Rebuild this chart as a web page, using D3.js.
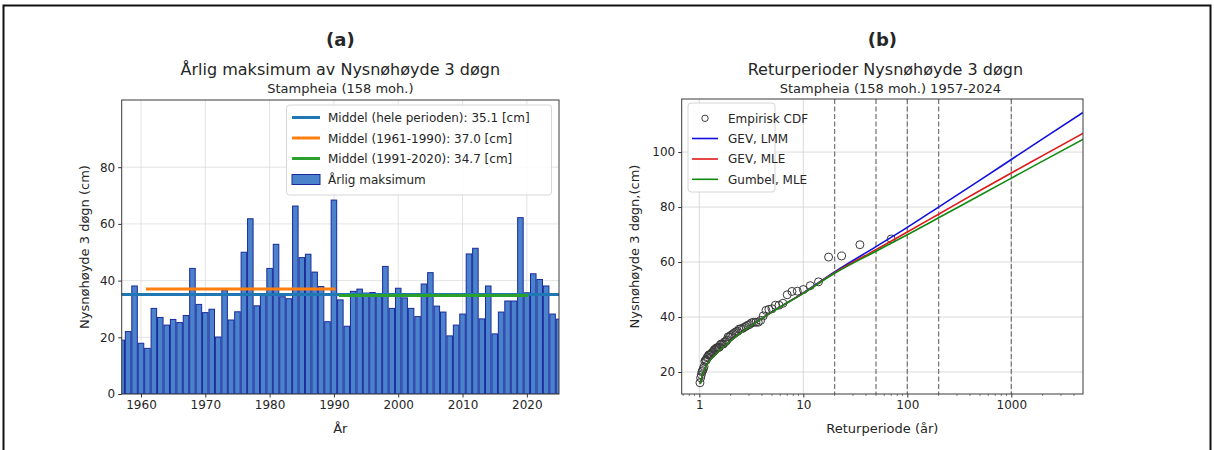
<!DOCTYPE html>
<html>
<head>
<meta charset="utf-8">
<script src="https://cdn.jsdelivr.net/npm/d3@7"></script>
<style>
	body { margin: 0; background: #fff; }
	svg text { font-family: "DejaVu Sans", sans-serif; fill: #262626; }
</style>
</head>
<body>
<script>
(function() {

	// (a) annual maximum of 3-day new snow depth
	var years = [1957, 1958, 1959, 1960, 1961, 1962, 1963, 1964, 1965, 1966, 1967, 1968, 1969,
		1970, 1971, 1972, 1973, 1974, 1975, 1976, 1977, 1978, 1979, 1980, 1981, 1982, 1983, 1984,
		1985, 1986, 1987, 1988, 1989, 1990, 1991, 1992, 1993, 1994, 1995, 1996, 1997, 1998, 1999,
		2000, 2001, 2002, 2003, 2004, 2005, 2006, 2007, 2008, 2009, 2010, 2011, 2012, 2013, 2014,
		2015, 2016, 2017, 2018, 2019, 2020, 2021, 2022, 2023, 2024, 2025];
	var maxSnow = [19.0, 22.0, 38.1, 17.9, 16.1, 30.2, 27.0, 24.3, 26.3, 25.2, 27.7, 44.3, 31.6,
		28.7, 29.9, 20.1, 36.6, 26.1, 29.0, 50.0, 61.8, 31.1, 34.8, 44.3, 52.8, 34.3, 33.6, 66.3,
		48.1, 49.3, 43.0, 37.9, 25.5, 68.4, 33.2, 23.9, 36.2, 37.0, 35.6, 35.8, 34.7, 45.0, 30.2,
		37.3, 33.9, 30.2, 27.3, 38.8, 42.8, 31.0, 28.9, 20.5, 24.3, 28.2, 49.4, 51.4, 26.5, 38.1,
		21.2, 28.9, 32.8, 32.8, 62.2, 35.7, 42.4, 40.4, 38.1, 28.2, 26.4];

	var meanLabels = ['Middel (hele perioden): 35.1 [cm]', 'Middel (1961-1990): 37.0 [cm]', 'Middel (1991-2020): 34.7 [cm]'];
	var meanValues = [35.1, 37.0, 34.7];
	var meanFrom = [1957, 1961, 1991];
	var meanTo = [2025, 1990, 2020];
	var meanColors = ['#1f77b4', '#ff7f0e', '#2ca02c'];

	var yearTicks = [1960, 1970, 1980, 1990, 2000, 2010, 2020];
	var snowTicksA = [0, 20, 40, 60, 80];

	// (b) return periods, fitted curves
	var returnPeriods = [1.02, 1.1, 1.5, 2, 3, 5, 10, 20, 50, 100, 200, 500, 1000, 2000, 5000];
	var gevLmm    = [15.8, 20.2, 27.1, 31.3, 36.3, 41.9, 48.8, 56.4, 65.6, 72.6, 80.0, 89.8, 97.3, 104.8, 114.6];
	var gevMle    = [15.7, 20.1, 27.1, 31.3, 36.3, 41.8, 48.7, 56.1, 64.5, 70.9, 77.4, 86.0, 92.4, 98.7, 107.0];
	var gumbelMle = [15.6, 20.1, 27.1, 31.3, 36.3, 41.8, 48.6, 55.9, 63.9, 69.9, 76.1, 84.3, 90.5, 96.7, 104.8];
	var fitNames = ['GEV, LMM', 'GEV, MLE', 'Gumbel, MLE'];
	var fitColors = ['#1010e0', '#e01818', '#128a12'];

	var markerPeriods = [20, 50, 100, 200, 1000];
	var periodTicks = [1, 10, 100, 1000];
	var snowTicksB = [20, 40, 60, 80, 100];

	var svg = d3.select('body').append('svg')
		.attr('width', 1214).attr('height', 450);

	svg.append('rect')
		.attr('x', 3.5).attr('y', 5.5).attr('width', 1207).attr('height', 460)
		.attr('fill', 'none').attr('stroke', '#111').attr('stroke-width', 2);

	// ---------- panel (a) ----------
	var ax = { left: 121.7, right: 559, top: 100, bottom: 394 };
	var x = d3.scaleLinear().domain([1957, 2025]).range([ax.left, ax.right]);
	var y = d3.scaleLinear().domain([0, 103.7]).range([ax.bottom, ax.top]);

	svg.append('defs').append('clipPath').attr('id', 'clipA')
		.append('rect').attr('x', ax.left).attr('y', ax.top)
		.attr('width', ax.right - ax.left).attr('height', ax.bottom - ax.top);

	var ga = svg.append('g');

	// grid
	ga.selectAll('.gx').data(yearTicks).enter().append('line')
		.attr('x1', x).attr('x2', x).attr('y1', ax.top).attr('y2', ax.bottom)
		.attr('stroke', '#dcdcdc').attr('stroke-width', 0.8);
	ga.selectAll('.gy').data(snowTicksA).enter().append('line')
		.attr('x1', ax.left).attr('x2', ax.right).attr('y1', y).attr('y2', y)
		.attr('stroke', '#dcdcdc').attr('stroke-width', 0.8);

	var bw = 0.86;
	var plotA = ga.append('g').attr('clip-path', 'url(#clipA)');
	plotA.selectAll('rect.bar').data(years).enter().append('rect')
		.attr('class', 'bar')
		.attr('x', function(d) { return x(d - bw / 2); })
		.attr('width', x(bw) - x(0))
		.attr('y', function(d, i) { return y(maxSnow[i]); })
		.attr('height', function(d, i) { return y(0) - y(maxSnow[i]); })
		.attr('fill', '#4a82cc').attr('stroke', '#1a2a9c').attr('stroke-width', 1);

	plotA.selectAll('line.mean').data(meanValues).enter().append('line')
		.attr('x1', function(d, i) { return x(meanFrom[i]); })
		.attr('x2', function(d, i) { return x(meanTo[i]); })
		.attr('y1', y).attr('y2', y)
		.attr('stroke', function(d, i) { return meanColors[i]; })
		.attr('stroke-width', 3).attr('stroke-linecap', 'square');

	ga.append('rect')
		.attr('x', ax.left).attr('y', ax.top)
		.attr('width', ax.right - ax.left).attr('height', ax.bottom - ax.top)
		.attr('fill', 'none').attr('stroke', '#3a3a3a').attr('stroke-width', 1);

	var xAxisA = ga.append('g').attr('transform', 'translate(0,' + ax.bottom + ')')
		.call(d3.axisBottom(x).tickValues(yearTicks).tickFormat(d3.format('d')).tickSize(3.5).tickPadding(3));
	var yAxisA = ga.append('g').attr('transform', 'translate(' + ax.left + ',0)')
		.call(d3.axisLeft(y).tickValues(snowTicksA).tickSize(3.5).tickPadding(3));
	[xAxisA, yAxisA].forEach(function(g) {
		g.select('.domain').remove();
		g.selectAll('line').attr('stroke', '#333');
		g.selectAll('text').attr('font-size', 12).attr('fill', '#262626');
	});

	// legend (a)
	var la = ga.append('g');
	la.append('rect').attr('x', 286.5).attr('y', 105).attr('width', 265).attr('height', 90).attr('rx', 3)
		.attr('fill', 'rgba(255,255,255,0.85)').attr('stroke', '#d6d6d6');
	var rowsA = [117.5, 138, 158.5, 179.5];
	meanLabels.forEach(function(t, i) {
		la.append('line').attr('x1', 292).attr('x2', 320).attr('y1', rowsA[i]).attr('y2', rowsA[i])
			.attr('stroke', meanColors[i]).attr('stroke-width', 3);
		la.append('text').attr('x', 328).attr('y', rowsA[i] + 4.5).attr('font-size', 12).text(t);
	});
	la.append('rect').attr('x', 292).attr('y', rowsA[3] - 5).attr('width', 28).attr('height', 10)
		.attr('fill', '#4a82cc').attr('stroke', '#1a2a9c');
	la.append('text').attr('x', 328).attr('y', rowsA[3] + 4.5).attr('font-size', 12).text('Årlig maksimum');

	// titles (a)
	var cxA = (ax.left + ax.right) / 2;
	svg.append('text').attr('x', cxA).attr('y', 46).attr('text-anchor', 'middle')
		.attr('font-size', 18).attr('font-weight', 'bold').attr('fill', '#111').text('(a)');
	svg.append('text').attr('x', cxA).attr('y', 75).attr('text-anchor', 'middle')
		.attr('font-size', 16).text('Årlig maksimum av Nysnøhøyde 3 døgn');
	svg.append('text').attr('x', cxA).attr('y', 92.5).attr('text-anchor', 'middle')
		.attr('font-size', 13).text('Stampheia (158 moh.)');
	svg.append('text').attr('x', cxA).attr('y', 433).attr('text-anchor', 'middle')
		.attr('font-size', 13).text('År');
	svg.append('text').attr('transform', 'translate(89,' + ((ax.top + ax.bottom) / 2) + ') rotate(-90)')
		.attr('text-anchor', 'middle').attr('font-size', 13).text('Nysnøhøyde 3 døgn (cm)');

	// ---------- panel (b) ----------
	var bx = { left: 681.7, right: 1083, top: 99, bottom: 394 };
	var xl = d3.scaleLog().domain([0.677, 4890]).range([bx.left, bx.right]);
	var yb = d3.scaleLinear().domain([12, 119.3]).range([bx.bottom, bx.top]);

	svg.select('defs').append('clipPath').attr('id', 'clipB')
		.append('rect').attr('x', bx.left).attr('y', bx.top)
		.attr('width', bx.right - bx.left).attr('height', bx.bottom - bx.top);

	var gb = svg.append('g');
	gb.selectAll('.gx').data(periodTicks).enter().append('line')
		.attr('x1', xl).attr('x2', xl).attr('y1', bx.top).attr('y2', bx.bottom)
		.attr('stroke', '#d0d0d0').attr('stroke-width', 0.8);
	gb.selectAll('.gy').data(snowTicksB).enter().append('line')
		.attr('x1', bx.left).attr('x2', bx.right).attr('y1', yb).attr('y2', yb)
		.attr('stroke', '#d0d0d0').attr('stroke-width', 0.8);

	gb.selectAll('.marker').data(markerPeriods).enter().append('line')
		.attr('x1', xl).attr('x2', xl).attr('y1', bx.top).attr('y2', bx.bottom)
		.attr('stroke', '#7a7a7a').attr('stroke-width', 1.3).attr('stroke-dasharray', '5,2.5');

	var plotB = gb.append('g').attr('clip-path', 'url(#clipB)');

	// empirical return periods from the annual maxima (rank / (n+1))
	var sorted = maxSnow.slice().sort(d3.descending);
	var n = sorted.length;
	plotB.selectAll('circle').data(sorted).enter().append('circle')
		.attr('cx', function(d, i) { return xl((n + 1) / (i + 1)); })
		.attr('cy', yb).attr('r', 4)
		.attr('fill', 'none').attr('stroke', '#3a3a3a').attr('stroke-width', 1);

	var line = d3.line()
		.x(function(d) { return xl(d[0]); })
		.y(function(d) { return yb(d[1]); })
		.curve(d3.curveMonotoneX);
	[gevLmm, gevMle, gumbelMle].forEach(function(vals, k) {
		plotB.append('path')
			.datum(returnPeriods.map(function(t, i) { return [t, vals[i]]; }))
			.attr('d', line).attr('fill', 'none')
			.attr('stroke', fitColors[k]).attr('stroke-width', 1.6);
	});

	gb.append('rect')
		.attr('x', bx.left).attr('y', bx.top)
		.attr('width', bx.right - bx.left).attr('height', bx.bottom - bx.top)
		.attr('fill', 'none').attr('stroke', '#3a3a3a').attr('stroke-width', 1);

	var minor = xl.ticks().filter(function(t) { return periodTicks.indexOf(t) < 0; });
	var xAxisB = gb.append('g').attr('transform', 'translate(0,' + bx.bottom + ')')
		.call(d3.axisBottom(xl).tickValues(periodTicks).tickFormat(d3.format('d')).tickSize(3.5).tickPadding(3));
	gb.append('g').attr('transform', 'translate(0,' + bx.bottom + ')')
		.selectAll('line').data(minor).enter().append('line')
		.attr('x1', xl).attr('x2', xl).attr('y1', 0).attr('y2', 2)
		.attr('stroke', '#333').attr('stroke-width', 0.6);
	var yAxisB = gb.append('g').attr('transform', 'translate(' + bx.left + ',0)')
		.call(d3.axisLeft(yb).tickValues(snowTicksB).tickSize(3.5).tickPadding(3));
	[xAxisB, yAxisB].forEach(function(g) {
		g.select('.domain').remove();
		g.selectAll('line').attr('stroke', '#333');
		g.selectAll('text').attr('font-size', 12).attr('fill', '#262626');
	});

	// legend (b)
	var lb = gb.append('g');
	lb.append('rect').attr('x', 688).attr('y', 103).attr('width', 87).attr('height', 89).attr('rx', 3)
		.attr('fill', 'rgba(255,255,255,0.85)').attr('stroke', '#d6d6d6');
	var rowsB = [118.3, 138.5, 159, 179.3];
	lb.append('circle').attr('cx', 705).attr('cy', rowsB[0]).attr('r', 3.2)
		.attr('fill', 'none').attr('stroke', '#3a3a3a');
	lb.append('text').attr('x', 728).attr('y', rowsB[0] + 4.3).attr('font-size', 12).text('Empirisk CDF');
	fitNames.forEach(function(t, i) {
		lb.append('line').attr('x1', 692).attr('x2', 718).attr('y1', rowsB[i + 1]).attr('y2', rowsB[i + 1])
			.attr('stroke', fitColors[i]).attr('stroke-width', 1.6);
		lb.append('text').attr('x', 728).attr('y', rowsB[i + 1] + 4.3).attr('font-size', 12).text(t);
	});

	var cxB = (bx.left + bx.right) / 2;
	svg.append('text').attr('x', cxB).attr('y', 46).attr('text-anchor', 'middle')
		.attr('font-size', 18).attr('font-weight', 'bold').attr('fill', '#111').text('(b)');
	svg.append('text').attr('x', cxB + 3).attr('y', 75).attr('text-anchor', 'middle')
		.attr('font-size', 16).text('Returperioder Nysnøhøyde 3 døgn');
	svg.append('text').attr('x', cxB + 8).attr('y', 92.5).attr('text-anchor', 'middle')
		.attr('font-size', 13).text('Stampheia (158 moh.) 1957-2024');
	svg.append('text').attr('x', cxB).attr('y', 433).attr('text-anchor', 'middle')
		.attr('font-size', 13).text('Returperiode (år)');
	svg.append('text').attr('transform', 'translate(639,' + ((bx.top + bx.bottom) / 2) + ') rotate(-90)')
		.attr('text-anchor', 'middle').attr('font-size', 13).text('Nysnøhøyde 3 døgn,(cm)');

})();
</script>
</body>
</html>
